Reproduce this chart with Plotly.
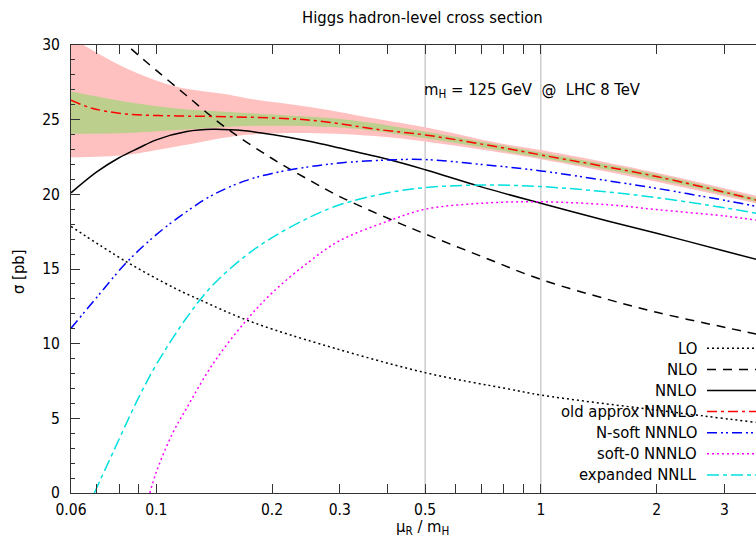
import plotly.graph_objects as go
import math

# ---------------- data ----------------
lo_x = [0.06, 0.0834, 0.112, 0.13, 0.171, 0.246, 0.5, 0.83, 1.0, 2.0, 3.63]
lo_y = [17.85, 15.5, 13.7, 12.93, 11.6, 10.25, 8.06, 6.95, 6.56, 5.55, 4.73]

nlo_x = [0.08, 0.09, 0.1, 0.12, 0.15, 0.2, 0.25, 0.3, 0.4, 0.5, 0.7, 1.0, 1.5, 2.0, 3.0, 3.63]
nlo_y = [30.45, 29.3, 28.3, 26.6, 24.55, 22.4, 20.95, 19.85, 18.4, 17.35, 15.85, 14.3, 12.95, 12.1, 11.1, 10.65]

nnlo_x = [0.06, 0.07, 0.08, 0.09, 0.1, 0.12, 0.14, 0.17, 0.2, 0.25, 0.3, 0.4, 0.5, 0.7, 1.0, 1.5, 2.0, 3.0, 3.63]
nnlo_y = [20.1, 21.5, 22.45, 23.1, 23.65, 24.2, 24.35, 24.25, 24.0, 23.55, 23.1, 22.35, 21.65, 20.5, 19.4, 18.2, 17.4, 16.2, 15.65]

old_x = [0.06, 0.068, 0.0834, 0.113, 0.152, 0.248, 0.389, 0.5, 0.782, 1.0, 2.0, 3.63]
old_y = [26.3, 25.77, 25.38, 25.25, 25.2, 24.98, 24.3, 23.98, 23.15, 22.64, 21.19, 19.62]

nsoft_x = [0.06, 0.07, 0.0834, 0.1, 0.12, 0.14, 0.17, 0.2, 0.25, 0.3, 0.4, 0.5, 0.7, 1.0, 1.5, 2.0, 3.0, 3.63]
nsoft_y = [11.03, 13.1, 15.4, 17.3, 18.85, 19.95, 20.9, 21.4, 21.85, 22.1, 22.3, 22.33, 22.0, 21.57, 20.9, 20.4, 19.6, 19.2]

soft0_x = [0.0962, 0.1, 0.11, 0.12, 0.14, 0.17, 0.2, 0.25, 0.3, 0.4, 0.5, 0.7, 1.0, 1.5, 2.0, 3.0, 3.63]
soft0_y = [0.0, 1.4, 3.95, 5.7, 8.6, 11.45, 13.4, 15.5, 16.9, 18.2, 19.0, 19.4, 19.5, 19.3, 18.98, 18.55, 18.28]

nnll_x = [0.069, 0.08, 0.09, 0.1, 0.12, 0.14, 0.17, 0.2, 0.25, 0.3, 0.4, 0.5, 0.7, 1.0, 1.5, 2.0, 3.0, 3.63]
nnll_y = [0.0, 3.6, 6.4, 8.6, 11.75, 13.9, 15.85, 17.1, 18.45, 19.3, 20.1, 20.45, 20.62, 20.52, 20.15, 19.78, 19.1, 18.73]

pink_x = [0.06, 0.0834, 0.113, 0.152, 0.175, 0.248, 0.389, 0.5, 0.782, 1.0, 2.0, 3.63]
pink_hi = [30.5, 28.45, 27.2, 26.7, 26.4, 25.87, 24.98, 24.49, 23.42, 22.97, 21.45, 19.9]
pink_lo = [22.48, 22.64, 23.2, 23.8, 24.0, 24.1, 23.85, 23.53, 22.8, 22.35, 20.85, 19.4]

green_x = [0.06, 0.0834, 0.113, 0.175, 0.318, 0.5, 1.0, 2.0, 3.63]
green_hi = [26.88, 26.2, 25.75, 25.43, 24.98, 24.2, 22.8, 21.35, 19.75]
green_lo = [24.05, 24.1, 24.3, 24.58, 24.43, 23.75, 22.45, 21.0, 19.5]

x_tickvals = [0.06, 0.1, 0.2, 0.3, 0.5, 1, 2, 3]
x_ticktext = ["0.06", "0.1", "0.2", "0.3", "0.5", "1", "2", "3"]
x_minor = [0.07, 0.08, 0.09, 0.4, 0.6, 0.7, 0.8, 0.9]
grid_x = [0.5, 1]
y_tickvals = [0, 5, 10, 15, 20, 25, 30]

legend_labels = ["LO", "NLO", "NNLO", "old approx NNNLO", "N-soft NNNLO", "soft-0 NNNLO", "expanded NNLL"]

# ---------------- styles ----------------
FONT = "DejaVu Sans Condensed, DejaVu Sans"
FS = 16.5
TFS = 15.5
styles = [
    dict(color="black", dash="2px,3px"),
    dict(color="black", dash="9px,7px"),
    dict(color="black", dash="solid"),
    dict(color="#ff0000", dash="10px,4px,3px,4px"),
    dict(color="#0000ff", dash="10px,4px,2px,3px,2px,4px"),
    dict(color="#ff00ff", dash="2px,3px"),
    dict(color="#00e0e0", dash="12px,4px,4px,4px"),
]
series = [(lo_x, lo_y), (nlo_x, nlo_y), (nnlo_x, nnlo_y), (old_x, old_y),
          (nsoft_x, nsoft_y), (soft0_x, soft0_y), (nnll_x, nnll_y)]

fig = go.Figure()

# bands
fig.add_trace(go.Scatter(x=pink_x, y=pink_lo, mode="lines", line=dict(width=0, shape="spline"),
                         showlegend=False, hoverinfo="skip"))
fig.add_trace(go.Scatter(x=pink_x, y=pink_hi, mode="lines", line=dict(width=0, shape="spline"),
                         fill="tonexty", fillcolor="#ffc0c0", showlegend=False, hoverinfo="skip"))
fig.add_trace(go.Scatter(x=green_x, y=green_lo, mode="lines", line=dict(width=0, shape="spline"),
                         showlegend=False, hoverinfo="skip"))
fig.add_trace(go.Scatter(x=green_x, y=green_hi, mode="lines", line=dict(width=0, shape="spline"),
                         fill="tonexty", fillcolor="#bdcf8c", showlegend=False, hoverinfo="skip"))

for (xs, ys), st, name in zip(series, styles, legend_labels):
    fig.add_trace(go.Scatter(x=xs, y=ys, mode="lines", name=name, showlegend=False,
                             line=dict(color=st["color"], dash=st["dash"], width=1.5, shape="spline")))

W, H = 756, 539
L, R, T, B = 71, 0, 45, 46
pw, ph = W - L - R, H - T - B

def px2paper_x(px):
    return (px - L) / pw

def px2paper_y(py):
    return (H - B - py) / ph

shapes = []
for gx in grid_x:
    shapes.append(dict(type="line", xref="x", yref="paper", x0=gx, x1=gx, y0=0, y1=1,
                       line=dict(color="#b4b4b4", width=1), layer="below"))

annotations = []
leg_y0 = 348.3
leg_dy = 21.1
for i, (name, st) in enumerate(zip(legend_labels, styles)):
    yy = px2paper_y(leg_y0 + i * leg_dy)
    annotations.append(dict(text=name, xref="paper", yref="paper", x=px2paper_x(699), y=yy,
                            xanchor="right", yanchor="middle", showarrow=False,
                            font=dict(family=FONT, size=FS, color="black")))
    shapes.append(dict(type="line", xref="paper", yref="paper", x0=px2paper_x(707), x1=1.0,
                       y0=yy, y1=yy, line=dict(color=st["color"], dash=st["dash"], width=1.5)))

annotations.append(dict(text="m<sub>H</sub> = 125 GeV  @  LHC 8 TeV", xref="paper", yref="paper",
                        x=px2paper_x(422), y=px2paper_y(90), xanchor="left", yanchor="middle",
                        showarrow=False, font=dict(family=FONT, size=FS, color="black")))
annotations.append(dict(text="μ<sub>R</sub> / m<sub>H</sub>", xref="paper", yref="paper",
                        x=px2paper_x(422), y=px2paper_y(527.5), xanchor="center", yanchor="middle",
                        showarrow=False, font=dict(family=FONT, size=FS, color="black")))
annotations.append(dict(text="σ [pb]", xref="paper", yref="paper", textangle=-90,
                        x=px2paper_x(18), y=px2paper_y(272), xanchor="center", yanchor="middle",
                        showarrow=False, font=dict(family=FONT, size=FS, color="black")))
annotations.append(dict(text="Higgs hadron-level cross section", xref="paper", yref="paper",
                        x=px2paper_x(422), y=px2paper_y(18), xanchor="center", yanchor="middle",
                        showarrow=False, font=dict(family=FONT, size=FS, color="black")))

fig.update_layout(
    width=W, height=H, margin=dict(l=L, r=R, t=T, b=B, pad=0),
    paper_bgcolor="white", plot_bgcolor="white",
    font=dict(family=FONT, size=FS, color="black"),
    shapes=shapes, annotations=annotations, showlegend=False,
    xaxis=dict(type="log", range=[math.log10(0.06), math.log10(3.626)],
               tickvals=x_tickvals, ticktext=x_ticktext, ticks="inside", ticklen=9,
               tickfont=dict(family=FONT, size=TFS, color="black"),
               tickcolor="#333", showline=True, linecolor="#333", linewidth=1, mirror="ticks",
               showgrid=False, zeroline=False, ticklabelstandoff=2,
               minor=dict(tickvals=x_minor, ticks="inside", ticklen=9, tickcolor="#333", showgrid=False)),
    yaxis=dict(range=[0, 30], tickvals=y_tickvals, ticks="inside", ticklen=9, tickcolor="#333",
               tickfont=dict(family=FONT, size=TFS, color="black"),
               showline=True, linecolor="#333", linewidth=1, showgrid=False, zeroline=False,
               ticklabelstandoff=7,
               minor=dict(dtick=1, ticks="inside", ticklen=4, tickcolor="#333", showgrid=False)),
)

fig.write_html("out.html")
